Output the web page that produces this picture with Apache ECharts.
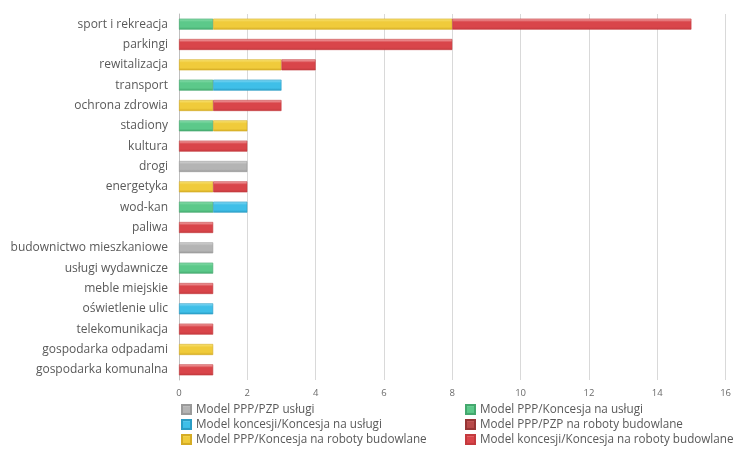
<!DOCTYPE html>
<html><head><meta charset="utf-8">
<script src="https://cdn.jsdelivr.net/npm/echarts@6/dist/echarts.min.js"></script>
<style>html,body{margin:0;padding:0;background:#fff}#c{width:734px;height:450px}</style>
</head><body><div id="c"></div>
<script>
const categories = ["sport i rekreacja","parkingi","rewitalizacja","transport","ochrona zdrowia","stadiony","kultura","drogi","energetyka","wod-kan","paliwa","budownictwo mieszkaniowe","usługi wydawnicze","meble miejskie","oświetlenie ulic","telekomunikacja","gospodarka odpadami","gospodarka komunalna"];
const seriesNames = ["Model PPP/PZP usługi","Model PPP/Koncesja na usługi","Model koncesji/Koncesja na usługi","Model PPP/PZP na roboty budowlane","Model PPP/Koncesja na roboty budowlane","Model koncesji/Koncesja na roboty budowlane"];
const pppPzpUslugi          = [0,0,0,0,0,0,0,2,0,0,0,1,0,0,0,0,0,0];
const pppKoncesjaUslugi     = [1,0,0,1,0,1,0,0,0,1,0,0,1,0,0,0,0,0];
const koncesjiUslugi        = [0,0,0,2,0,0,0,0,0,1,0,0,0,0,1,0,0,0];
const pppPzpRoboty          = [0,0,0,0,0,0,0,0,0,0,0,0,0,0,0,0,0,0];
const pppKoncesjaRoboty     = [7,0,3,0,1,1,0,0,1,0,0,0,0,0,0,0,1,0];
const koncesjiRoboty        = [7,8,1,0,2,0,2,0,1,0,1,0,0,1,0,1,0,1];
const xTicks = {min:0, max:16, interval:2};

const colors = [
  ['#d6d6d6','#b4b4b4','#9a9a9a'],
  ['#8fe0b0','#5cc98a','#44a86e'],
  ['#8fdcf5','#3fbfe8','#2a9cc4'],
  ['#d98080','#b84a4a','#963535'],
  ['#f8e47a','#f0cb3b','#d5ac25'],
  ['#f5b5b5','#d9454a','#c43a3e']
];
function grad(c){
  return new echarts.graphic.LinearGradient(0,0,0,1,[
    {offset:0,color:c[0]},{offset:0.3,color:c[1]},{offset:0.75,color:c[1]},{offset:1,color:c[2]}]);
}
const data = [pppPzpUslugi,pppKoncesjaUslugi,koncesjiUslugi,pppPzpRoboty,pppKoncesjaRoboty,koncesjiRoboty];
const series = data.map((d,i)=>({
  name: seriesNames[i], type:'bar', stack:'s', barWidth:11,
  data: d.map(v=>v===0?null:v),
  itemStyle:{color:grad(colors[i]), borderColor:colors[i][2], borderWidth:0.6},
  emphasis:{disabled:true}
}));
const legendText = {color:'#595959', fontSize:11.7, fontFamily:'Open Sans', lineHeight:15};
const chart = echarts.init(document.getElementById('c'), null, {renderer:'canvas'});
chart.setOption({
  animation:false,
  color: colors.map(c=>c[1]),
  grid:{left:179, right:7, top:14, bottom:70, containLabel:false},
  xAxis:{type:'value', min:xTicks.min, max:xTicks.max, interval:xTicks.interval,
    axisLine:{show:false}, axisTick:{show:false},
    splitLine:{lineStyle:{color:'#d9d9d9', width:1}},
    axisLabel:{color:'#6b6b6b', fontSize:9.5, fontFamily:'Open Sans', margin:8}},
  yAxis:{type:'category', data:categories, inverse:true,
    axisLine:{show:true, lineStyle:{color:'#bfbfbf'}}, axisTick:{show:false},
    axisLabel:{color:'#595959', fontSize:12, fontFamily:'Open Sans', margin:11}},
  legend:[
    {data:[seriesNames[0],seriesNames[2],seriesNames[4]], orient:'vertical', left:181, top:402, height:48, width:280, padding:0,
     itemWidth:9, itemHeight:9, itemGap:0, textStyle:legendText, icon:'rect', selectedMode:false},
    {data:[seriesNames[1],seriesNames[3],seriesNames[5]], orient:'vertical', left:465, top:402, height:48, width:269, padding:0,
     itemWidth:9, itemHeight:9, itemGap:0, textStyle:legendText, icon:'rect', selectedMode:false}
  ],
  series: series
});
</script></body></html>
